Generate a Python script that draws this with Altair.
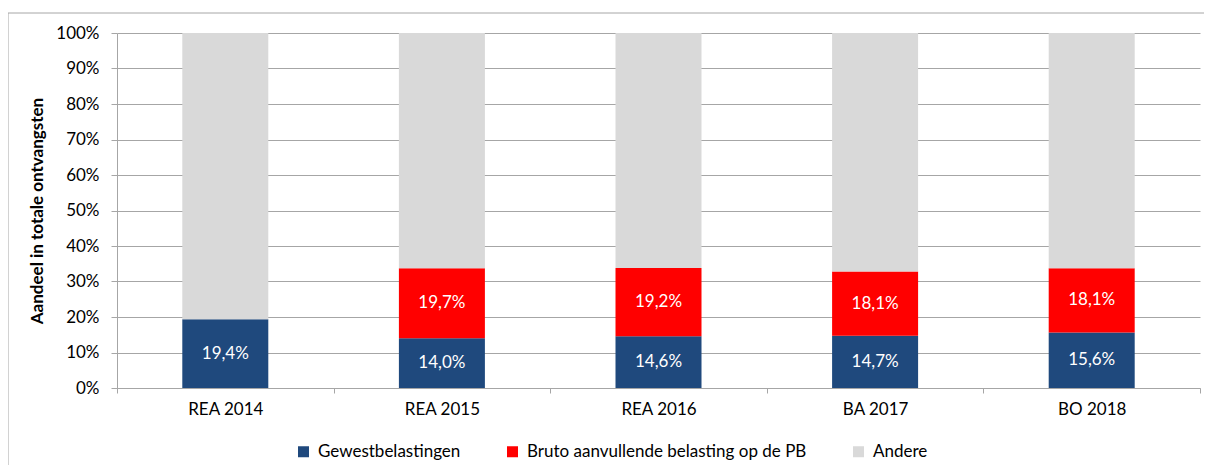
import altair as alt
import pandas as pd

categories = ["REA 2014", "REA 2015", "REA 2016", "BA 2017", "BO 2018"]
gewest = [19.4, 14.0, 14.6, 14.7, 15.6]
bruto = [0.0, 19.7, 19.2, 18.1, 18.1]
series = ["Gewestbelastingen", "Bruto aanvullende belasting op de PB", "Andere"]
colors = ["#1F497D", "#FF0000", "#D9D9D9"]
y_ticks = [0, 10, 20, 30, 40, 50, 60, 70, 80, 90, 100]

rows = []
for i, c in enumerate(categories):
    andere = round(100 - gewest[i] - bruto[i], 1)
    for k, (s, v) in enumerate(zip(series, [gewest[i], bruto[i], andere])):
        rows.append({"cat": c, "series": s, "value": v, "order": k})
df = pd.DataFrame(rows)

FONT = "Lato"
FS = 17

base = alt.Chart(df).transform_stack(
    stack="value", groupby=["cat"], as_=["y0", "y1"],
    sort=[alt.SortField("order", "ascending")]
).transform_calculate(
    mid="(datum.y0 + datum.y1) / 2",
    label="replace(format(datum.value, '.1f'), '.', ',') + '%'"
)

xaxis = alt.Axis(labelAngle=0, tickBand="extent", domainColor="#A6A6A6",
                 tickColor="#A6A6A6", tickSize=5, labelPadding=8,
                 labelFontSize=FS, labelColor="#000000", labelFont=FONT)
yaxis = alt.Axis(values=y_ticks, labelExpr="datum.value + '%'", labelOverlap=False,
                 title="Aandeel in totale ontvangsten", titleFontSize=FS,
                 titleFont=FONT, titleFontWeight="bold", titleColor="#000000",
                 titlePadding=9,
                 gridColor="#A6A6A6", domainColor="#A6A6A6", tickColor="#A6A6A6",
                 tickSize=6, labelPadding=12, labelFontSize=FS,
                 labelColor="#000000", labelFont=FONT)
yscale = alt.Scale(domain=[0, 100])
xscale = alt.Scale(paddingInner=0, paddingOuter=0)

bars = base.mark_bar(width=86).encode(
    x=alt.X("cat:N", sort=categories, title=None, scale=xscale, axis=xaxis),
    y=alt.Y("y0:Q", scale=yscale, axis=yaxis),
    y2="y1:Q",
    color=alt.Color("series:N", sort=series,
                    scale=alt.Scale(domain=series, range=colors),
                    legend=alt.Legend(title=None, orient="none", direction="horizontal",
                                      legendX=178, legendY=410, symbolType="square",
                                      symbolSize=121, symbolStrokeWidth=0,
                                      labelFontSize=FS, labelFont=FONT, labelLimit=0,
                                      labelColor="#000000", labelOffset=6,
                                      columnPadding=43)),
)

texts = base.transform_filter(
    "datum.order < 2 && datum.value > 0"
).mark_text(color="white", fontSize=FS, font=FONT).encode(
    x=alt.X("cat:N", sort=categories, title=None, scale=xscale, axis=xaxis),
    y=alt.Y("mid:Q", scale=yscale, axis=yaxis),
    text="label:N",
)

frame = alt.Chart(df).mark_rect(fill=None, stroke="#A6A6A6", strokeWidth=1).encode(
    x=alt.value(-109), x2=alt.value(1100), y=alt.value(-20), y2=alt.value(470)
).transform_filter("datum.order == 0 && datum.cat == 'REA 2014'")

chart = alt.layer(frame, bars, texts).properties(
    width=1083, height=355,
    autosize=alt.AutoSizeParams(type="none"),
    padding={"left": 109, "top": 25, "right": 4, "bottom": 77},
).configure_view(stroke=None)

chart.save("out.html", embed_options={"renderer": "svg", "actions": False})
